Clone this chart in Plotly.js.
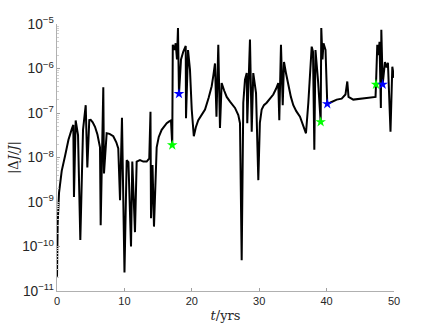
<!DOCTYPE html>
<html>
<head>
<meta charset="utf-8">
<script src="https://cdn.plot.ly/plotly-3.0.1.min.js"></script>
<style>
  body { margin: 0; background: #fff; }
  #plot { width: 436px; height: 327px; }
</style>
</head>
<body>
<div id="plot"></div>
<script>
// time (years) and |dJ/J|
const tYears = [
  0, 0.1, 0.3, 0.7, 1.2, 1.7, 2.2, 2.42, 2.52, 2.77, 3.12, 3.46, 3.86, 4.26, 4.5, 4.79,
  5.0, 5.3, 5.64, 6.0, 6.38, 6.48, 6.87, 6.97, 7.37, 7.8, 8.35, 8.8, 9.09, 9.35, 9.64, 10.01, 10.34, 10.6, 10.98,
  11.17, 11.57, 11.82, 12.31, 12.8, 13.31, 13.69, 13.87, 13.95, 14.17, 14.39, 14.79, 15.1,
  15.53, 16.0, 16.28, 16.6, 16.91, 17.1, 17.18, 17.4, 17.61, 17.8, 17.95, 18.1, 18.4, 18.74, 19.1,
  19.14, 19.44, 19.73, 19.99, 20.3, 20.6, 20.96, 21.5, 21.96, 22.5, 22.95, 23.2, 23.44, 23.66, 23.93, 24.18,
  24.43, 24.8, 25.18, 25.67, 26.41, 26.9, 27.15, 27.4, 27.64, 27.89, 28.15, 28.23, 28.63, 28.89,
  29.12, 29.53, 29.87, 30.1, 30.37, 30.7, 31.11, 31.6, 32.09, 32.5, 32.83, 32.98, 33.23, 33.49, 33.68, 34.0, 34.32,
  34.7, 35.06, 35.5, 36.05, 36.54, 36.94, 37.29, 37.54, 37.79, 37.98, 38.18, 38.35, 38.72, 39.12,
  39.21, 39.39, 39.54, 39.84, 40.1, 40.5, 41.5, 42.24, 42.8, 43.07, 43.25, 43.96, 45.45,
  47.26, 47.33, 47.52, 47.7, 47.85, 48.05, 48.12, 48.32, 48.66, 48.9, 49.1, 49.48,
  49.75, 50.0
];
const dJ = [
  2.1e-11, 3.2e-10, 1.6e-9, 5.0e-9, 1.1e-8, 2.5e-8, 4.4e-8, 5.4e-8, 1.3e-9, 6.8e-8, 3.2e-8, 1.4e-10, 4.2e-8, 1.5e-7, 6.0e-9, 6.9e-8,
  7.0e-8, 6.2e-8, 4.9e-8, 3.3e-8, 1.7e-8, 3.0e-10, 3.8e-7, 4.4e-9, 3.5e-8, 3.4e-8, 3.0e-8, 2.2e-8, 1.6e-8, 1.1e-9, 7.8e-8, 2.6e-11, 8.7e-9, 7.9e-9, 1.0e-10,
  8.1e-9, 2.1e-10, 8.1e-9, 8.7e-9, 8.1e-9, 8.1e-9, 9.5e-9, 1.07e-7, 4.3e-10, 6.8e-9, 2.8e-10, 1.7e-8, 2.9e-8,
  4.2e-8, 5.2e-8, 5.9e-8, 6.4e-8, 6.8e-8, 1.9e-8, 3.4e-6, 2.6e-6, 3.7e-6, 1.6e-6, 8.1e-6, 2.7e-7, 1.6e-6, 2.4e-6, 3.2e-6,
  7.6e-8, 2.6e-6, 9.3e-7, 1.2e-7, 3.0e-8, 4.8e-8, 6.9e-8, 9.5e-8, 1.2e-7, 2.2e-7, 4.0e-7, 7.0e-7, 1.3e-6, 8.3e-8, 3.4e-6, 4.6e-8,
  4.7e-7, 3.2e-7, 2.3e-7, 1.8e-7, 1.3e-7, 9.0e-8, 5.9e-8, 4.9e-11, 1.7e-7, 5.6e-7, 7.9e-7, 5.9e-8, 4.5e-6, 3.8e-8,
  7.9e-7, 2.8e-7, 3.1e-9, 6.0e-8, 1.2e-7, 1.5e-7, 1.7e-7, 2.1e-7, 2.6e-7, 3.5e-7, 4.7e-7, 6.9e-8, 3.4e-6, 1.5e-7, 1.4e-6, 7.5e-7, 4.0e-7,
  2.3e-7, 1.5e-7, 1.1e-7, 8.3e-8, 4.9e-8, 3.5e-8, 1.7e-7, 9.3e-7, 3.1e-6, 2.4e-6, 1.5e-8, 2.6e-6, 5.6e-7, 6.3e-8,
  8.1e-6, 1.6e-6, 3.7e-6, 2.6e-6, 1.6e-7, 1.7e-7, 2.0e-7, 2.1e-7, 2.6e-7, 5.1e-7, 2.3e-7, 2.0e-7, 2.1e-7,
  2.3e-7, 4.4e-7, 3.4e-6, 2.0e-6, 4.0e-6, 1.3e-7, 7.4e-6, 4.4e-7, 1.4e-6, 1.05e-6, 1.35e-6, 3.8e-8,
  1.1e-6, 6.2e-7
];

// switch points
const greenT = [17.1, 39.12, 47.33];
const greenDJ = [1.9e-8, 6.3e-8, 4.4e-7];
const blueT = [18.1, 40.1, 48.32];
const blueDJ = [2.7e-7, 1.6e-7, 4.4e-7];

const traceLine = {
  x: tYears,
  y: dJ,
  type: "scatter",
  mode: "lines",
  line: { color: "#000000", width: 2 },
  hoverinfo: "skip"
};

const traceGreen = {
  x: greenT,
  y: greenDJ,
  type: "scatter",
  mode: "markers",
  marker: { symbol: "star", size: 8, color: "#00ff00", line: { width: 0 } }
};

const traceBlue = {
  x: blueT,
  y: blueDJ,
  type: "scatter",
  mode: "markers",
  marker: { symbol: "star", size: 8, color: "#0000ff", line: { width: 0 } }
};

const tickFont = { family: "Liberation Sans, Arial, sans-serif", size: 11, color: "#262626" };
const titleFont = { family: "DejaVu Serif, serif", size: 13, color: "#262626" };

const layout = {
  width: 436,
  height: 327,
  showlegend: false,
  paper_bgcolor: "#ffffff",
  plot_bgcolor: "#ffffff",
  margin: { l: 57, r: 42, t: 24, b: 36 },
  xaxis: {
    range: [0, 50],
    tickvals: [0, 10, 20, 30, 40, 50],
    ticks: "inside",
    ticklen: 3,
    tickcolor: "#a0a0a0",
    showline: true,
    linecolor: "#b0b0b0",
    linewidth: 1,
    showgrid: false,
    zeroline: false,
    tickfont: tickFont,
    title: { text: "<i>t</i>/yrs", font: titleFont, standoff: 4 }
  },
  yaxis: {
    type: "log",
    range: [-11, -5],
    dtick: 1,
    exponentformat: "power",
    ticks: "inside",
    ticklen: 3,
    tickcolor: "#a0a0a0",
    minor: { ticks: "inside", ticklen: 2, tickcolor: "#d0d0d0", dtick: "D1" },
    showline: true,
    linecolor: "#b0b0b0",
    linewidth: 1,
    showgrid: false,
    zeroline: false,
    tickfont: tickFont,
    title: { text: "|Δ<i>J</i>/<i>J</i>|", font: titleFont, standoff: 0 }
  }
};

Plotly.newPlot("plot", [traceLine, traceGreen, traceBlue], layout, { staticPlot: true });
</script>
</body>
</html>
